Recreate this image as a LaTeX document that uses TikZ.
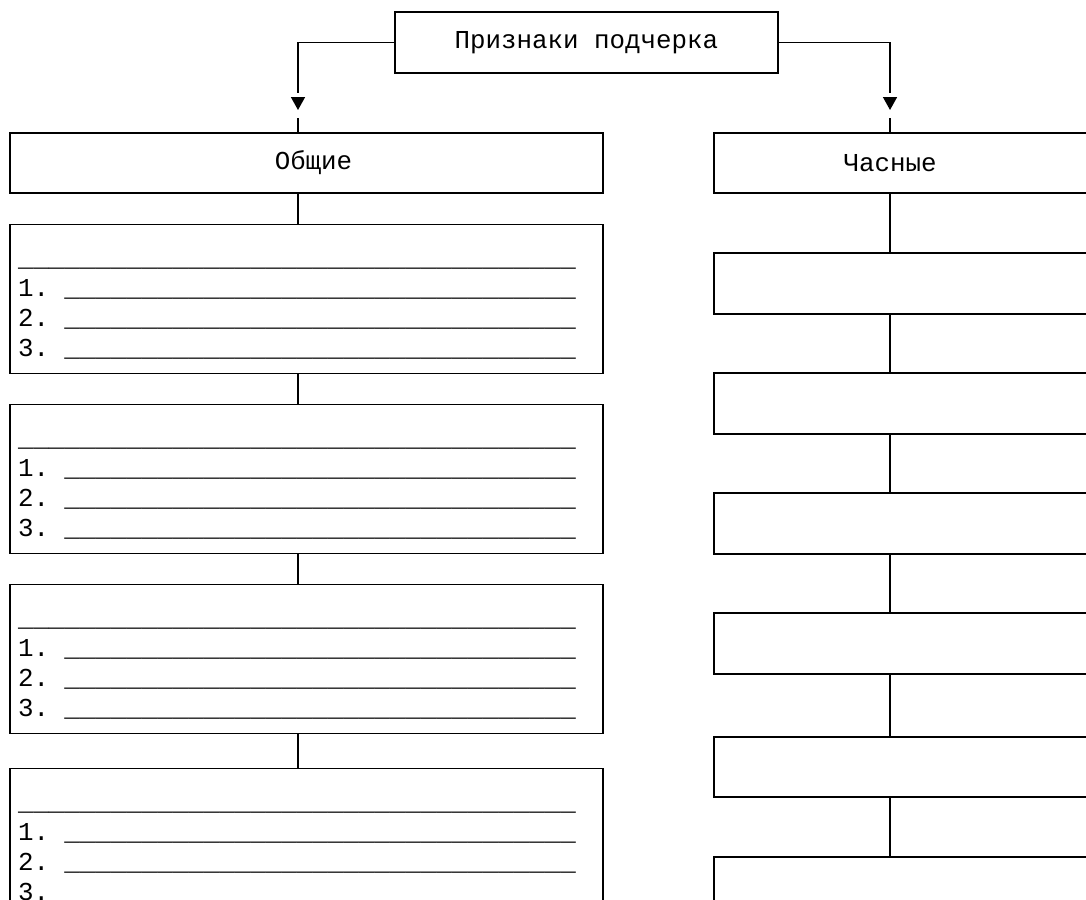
\documentclass[tikz,border=0pt]{standalone}
\usepackage{fontspec}
\newfontfamily\courfont{Liberation Mono}
\usetikzlibrary{arrows.meta}
\newcommand{\ublank}{\_\_\_\_\_\_\_\_\_\_\_\_\_\_\_\_\_\_\_\_\_\_\_\_\_\_\_\_\_\_\_\_\_}
\newcommand{\blankitems}{\rule{0pt}{0.84cm}\_\_\_\ublank\\1.\hphantom{.}\ublank\\2.\hphantom{.}\ublank\\3.\hphantom{.}\ublank\rule[-0.34cm]{0pt}{0.34cm}}
\begin{document}
\begin{tikzpicture}[
  box/.style={draw,line width=1pt,inner sep=0pt,font=\courfont\fontsize{14.7}{17.07}\selectfont},
  listbox/.style={box,text width=11.54cm,inner xsep=0.16cm,align=left},
  rlabel/.style={inner sep=0pt,minimum width=7.04cm,minimum height=1.2cm,font=\courfont\fontsize{14.7}{17.07}\selectfont},
  link/.style={line width=0.9pt},
  tip/.style={-{Triangle[length=0.26cm,width=0.28cm]}}
]
\clip (0,0) rectangle (21.72,-17.98);

\node[box,minimum width=7.66cm,minimum height=1.22cm] (top) at (11.73,-0.85) {Признаки подчерка};
\node[box,minimum width=11.86cm,minimum height=1.2cm] (obsh) at (6.13,-3.26) {\hspace*{0.28cm}Общие};

\node[listbox] (l1) at (6.13,-5.98) {\blankitems};
\node[listbox] (l2) at (6.13,-9.58) {\blankitems};
\node[listbox] (l3) at (6.13,-13.18) {\blankitems};
\node[listbox] (l4) at (6.13,-16.86) {\blankitems};

\node[rlabel] (chas) at (17.8,-3.26) {Часные};
\node[rlabel] (r1) at (17.8,-5.67) {};
\node[rlabel] (r2) at (17.8,-8.07) {};
\node[rlabel] (r3) at (17.8,-10.47) {};
\node[rlabel] (r4) at (17.8,-12.87) {};
\node[rlabel] (r5) at (17.8,-15.34) {};
\node[rlabel] (r6) at (17.8,-17.74) {};
\foreach \n in {chas,r1,r2,r3,r4,r5,r6}
  \draw[line width=1pt] (\n.north west) ++(8,0) -- (\n.north west) -- (\n.south west) -- ++(8,0);

\coordinate (spineL) at (5.96,0);
\coordinate (tipL) at (5.96,-2.2);
\coordinate (tipR) at (17.8,-2.2);
\coordinate (gapL) at (5.96,-1.86);
\coordinate (gapR) at (17.8,-1.86);

\draw[link] (top.west) -| (gapL);
\draw[link,tip] (tipL) ++(0,0.26) -- (tipL);
\draw[link] (tipL) ++(0,-0.16) -- (obsh.north -| tipL);
\draw[link] (top.east) -| (gapR);
\draw[link,tip] (tipR) ++(0,0.26) -- (tipR);
\draw[link] (tipR) ++(0,-0.16) -- (chas.north);

\foreach \a/\b in {obsh/l1,l1/l2,l2/l3,l3/l4}
  \draw[link] (\a.south -| spineL) -- (\b.north -| spineL);
\foreach \a/\b in {chas/r1,r1/r2,r2/r3,r3/r4,r4/r5,r5/r6}
  \draw[link] (\a.south) -- (\b.north);
\end{tikzpicture}
\end{document}
